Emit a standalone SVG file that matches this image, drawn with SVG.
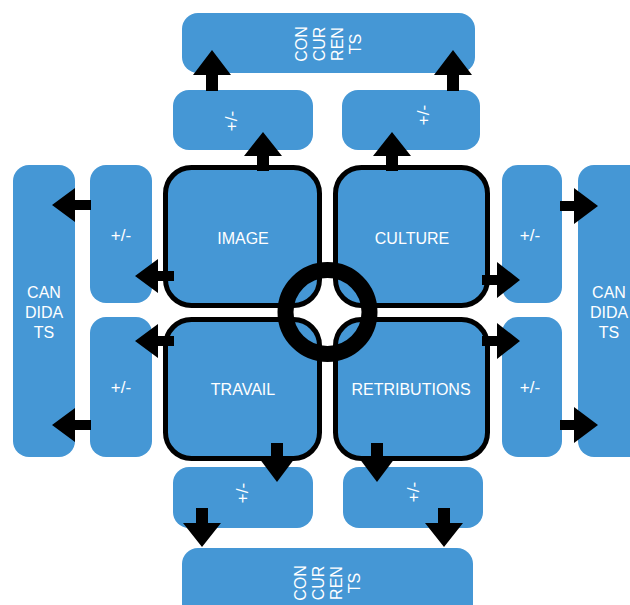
<svg xmlns="http://www.w3.org/2000/svg" width="630" height="605" viewBox="0 0 630 605">
<style>
.b{fill:#4597d5}
.f{fill:#4597d5;stroke:#000;stroke-width:5}
.t{font-family:"Liberation Sans",Arial,sans-serif;font-size:16px;fill:#fff;text-anchor:middle}
.p{font-size:17px}
.a{fill:#000}
</style>
<rect width="630" height="605" fill="#fff"/>
<g id="concurrents-top"><rect class="b" x="182" y="13" width="293" height="60" rx="16"/>
<text class="t" transform="rotate(-90 329 44)" x="329" y="22"><tspan x="329">CON</tspan><tspan x="329" dy="18">CUR</tspan><tspan x="329" dy="18">REN</tspan><tspan x="329" dy="18">TS</tspan></text></g>
<g id="concurrents-bottom"><rect class="b" x="182" y="548" width="291" height="72" rx="16"/>
<text class="t" transform="rotate(-90 329 583)" x="329" y="560"><tspan x="329">CON</tspan><tspan x="329" dy="18">CUR</tspan><tspan x="329" dy="18">REN</tspan><tspan x="329" dy="18">TS</tspan></text></g>
<g id="pm-top-left"><rect class="b" x="173" y="90" width="140" height="60" rx="16"/><text class="t p" transform="translate(237,121) rotate(-90)">+/-</text></g>
<g id="pm-top-right"><rect class="b" x="342" y="90" width="138" height="60" rx="16"/><text class="t p" transform="translate(429,115) rotate(-90)">+/-</text></g>
<g id="pm-bottom-left"><rect class="b" x="173" y="467" width="140" height="61" rx="16"/><text class="t p" transform="translate(248,493) rotate(-90)">+/-</text></g>
<g id="pm-bottom-right"><rect class="b" x="343" y="467" width="140" height="61" rx="16"/><text class="t p" transform="translate(419,492) rotate(-90)">+/-</text></g>
<g id="candidats-left"><rect class="b" x="13" y="165" width="62" height="292" rx="16"/>
<text class="t"><tspan x="44" y="298">CAN</tspan><tspan x="44" y="318">DIDA</tspan><tspan x="44" y="338">TS</tspan></text></g>
<g id="candidats-right"><rect class="b" x="578" y="165" width="70" height="292" rx="16"/>
<text class="t"><tspan x="609" y="298">CAN</tspan><tspan x="609" y="318">DIDA</tspan><tspan x="609" y="338">TS</tspan></text></g>
<g id="pm-left-top"><rect class="b" x="90" y="165" width="62" height="138" rx="16"/><text class="t p" x="121" y="241">+/-</text></g>
<g id="pm-left-bottom"><rect class="b" x="90" y="317" width="62" height="140" rx="16"/><text class="t p" x="121" y="393">+/-</text></g>
<g id="pm-right-top"><rect class="b" x="502" y="165" width="60" height="138" rx="16"/><text class="t p" x="530" y="241">+/-</text></g>
<g id="pm-right-bottom"><rect class="b" x="502" y="317" width="60" height="140" rx="16"/><text class="t p" x="530" y="393">+/-</text></g>
<g id="image"><rect class="f" x="165.5" y="167.5" width="154" height="138" rx="26"/><text class="t" x="243" y="243.5">IMAGE</text></g>
<g id="culture"><rect class="f" x="335.5" y="167.5" width="152" height="138" rx="26"/><text class="t" x="412" y="243.5">CULTURE</text></g>
<g id="travail"><rect class="f" x="165.5" y="319.5" width="154" height="139" rx="26"/><text class="t" x="243" y="395">TRAVAIL</text></g>
<g id="retributions"><rect class="f" x="335.5" y="319.5" width="152" height="139" rx="26"/><text class="t" x="411" y="395">RETRIBUTIONS</text></g>
<g id="hub"><circle cx="327.5" cy="312" r="42" fill="none" stroke="#000" stroke-width="16"/></g>
<g id="connectors" class="a">
<polygon points="206,91 206,75 193,75 212,50 231,75 218,75 218,91"/>
<polygon points="447,91 447,75 434,75 453,50 472,75 459,75 459,91"/>
<polygon points="257,171 257,156 244,156 263,132 282,156 269,156 269,171"/>
<polygon points="386,171 386,156 373,156 392,132 411,156 398,156 398,171"/>
<polygon points="91,200 75,200 75,188 52,205 75,222 75,210 91,210"/>
<polygon points="174,271 158,271 158,259 135,276 158,293 158,281 174,281"/>
<polygon points="174,336 158,336 158,324 135,341 158,358 158,346 174,346"/>
<polygon points="91,420 75,420 75,408 52,425 75,442 75,430 91,430"/>
<polygon points="482,275 497,275 497,262 520,280 497,298 497,285 482,285"/>
<polygon points="482,336 497,336 497,323 520,341 497,359 497,346 482,346"/>
<polygon points="560,201 574,201 574,188 598,206 574,224 574,211 560,211"/>
<polygon points="560,420 574,420 574,407 598,425 574,443 574,430 560,430"/>
<polygon points="271,443 271,458 259,458 277,482 295,458 283,458 283,443"/>
<polygon points="371,443 371,458 359,458 377,482 395,458 383,458 383,443"/>
<polygon points="196,508 196,523 183,523 202,547 221,523 208,523 208,508"/>
<polygon points="438,508 438,523 425,523 444,547 463,523 450,523 450,508"/>
</g>
</svg>
